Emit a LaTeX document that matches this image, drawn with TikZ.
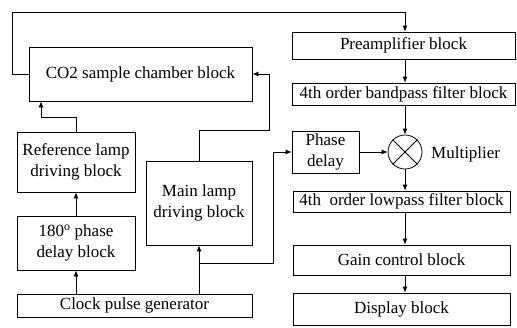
\documentclass[tikz,border=0pt]{standalone}
\usepackage{fontspec}
\setmainfont{Liberation Serif}
\usetikzlibrary{arrows.meta,calc}
\begin{document}
\begin{tikzpicture}[x=1pt,y=-1pt,
  box/.style={draw,line width=0.8pt,rectangle,inner sep=0pt,align=center,
    font=\fontsize{17}{21}\selectfont},
  arr/.style={line width=0.8pt,-{Latex[length=6pt,width=5pt]}},
  ln/.style={line width=0.8pt}]
\useasboundingbox (0,0) rectangle (517,327);
% left column
\node[box,minimum width=223,minimum height=54] (co2) at (140.5,74) {CO2 sample chamber block};
\node[box,minimum width=118,minimum height=60] (ref) at (76,162) {Reference lamp\\driving block};
\node[box,minimum width=118,minimum height=54] (ph) at (76,243) {180\textsuperscript{o} phase\\delay block};
\node[box,minimum width=235,minimum height=23] (clk) at (134.5,305.5) {Clock pulse generator};
\node[box,minimum width=106,minimum height=84] (main) at (199,203) {Main lamp\\driving block};
% right column
\node[box,minimum width=223,minimum height=27] (pre) at (403.5,45.5) {Preamplifier block};
\node[box,minimum width=223,minimum height=22] (bp) at (403.5,94) {4th order bandpass filter block};
\node[box,minimum width=67,minimum height=42] (pd) at (325.5,152) {Phase\\delay};
\node[draw,line width=0.8pt,circle,minimum size=34,inner sep=0pt] (mult) at (405,152) {};
\node[anchor=west,inner sep=0pt,font=\fontsize{17}{21}\selectfont] (multl) at (431,154) {Multiplier};
\node[box,minimum width=217,minimum height=21] (lp) at (401.5,201.5) {4th\ \ order lowpass filter block};
\node[box,minimum width=217,minimum height=30] (gain) at (401.5,260) {Gain control block};
\node[box,minimum width=217,minimum height=32] (disp) at (401.5,309) {Display block};
% cross in multiplier
\draw[ln] (mult.north west) -- (mult.south east);
\draw[ln] (mult.north east) -- (mult.south west);
% coordinates
\coordinate (tl) at (12,12);
\coordinate (j1) at (41,117);
\coordinate (m1) at (269,130);
\coordinate (jn) at (199,263);
\coordinate (pdin) at (273,152);
% connectors
\draw[arr] (co2.west) -| (tl) -| (pre.north -| mult);
\draw[arr] (ref.north) |- (j1) -- (j1 |- co2.south);
\draw[arr] (ph.north) -- (ref.south);
\draw[arr] (clk.north -| ph) -- (ph.south);
\draw[arr] (clk.north -| main) -- (main.south);
\draw[arr] (jn) -| (pdin) -- (pd.west);
\draw[arr] (main.north) |- (m1) |- (co2.east);
\draw[arr] (pre.south -| mult) -- (bp.north -| mult);
\draw[arr] (bp.south -| mult) -- (mult.north);
\draw[arr] (pd.east) -- (mult.west);
\draw[arr] (mult.south) -- (lp.north -| mult);
\draw[arr] (lp.south -| mult) -- (gain.north -| mult);
\draw[arr] (gain.south -| mult) -- (disp.north -| mult);
\end{tikzpicture}
\end{document}
